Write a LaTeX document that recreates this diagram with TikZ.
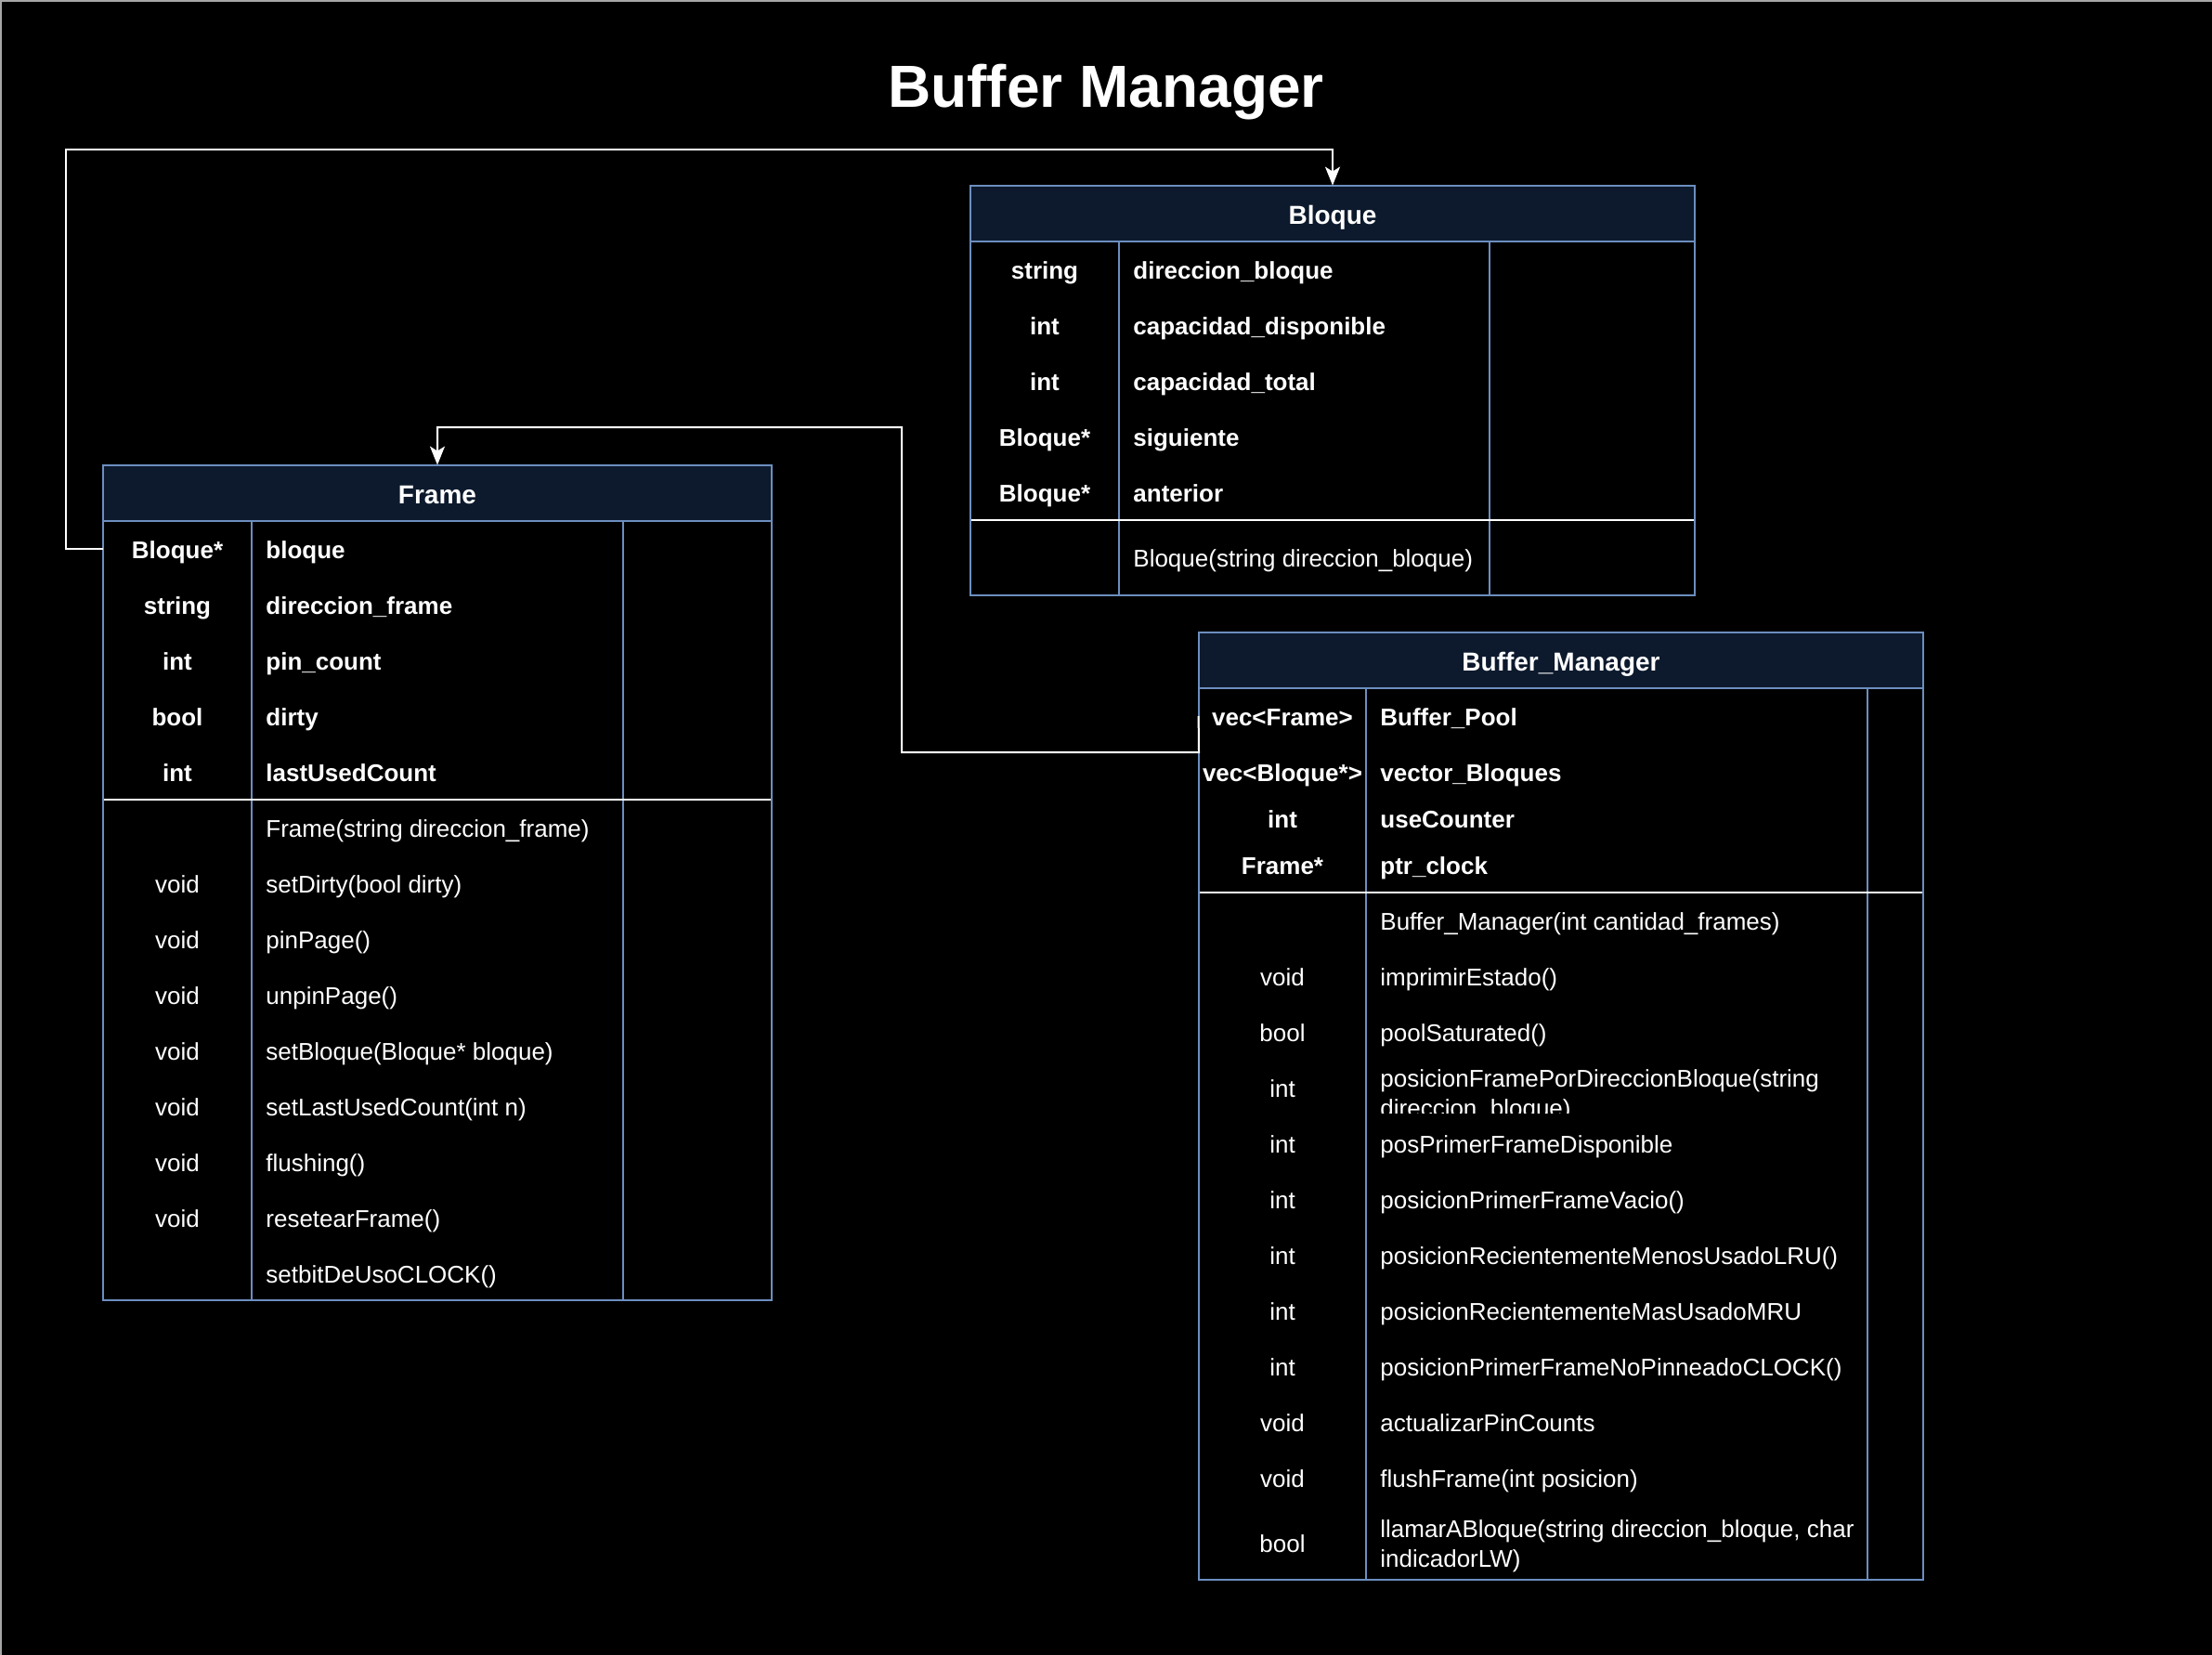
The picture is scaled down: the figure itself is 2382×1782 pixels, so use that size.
\documentclass[tikz,border=0pt]{standalone}
\usepackage{fontspec}
\setmainfont{Liberation Sans}
\usetikzlibrary{arrows.meta}
\definecolor{hdrfill}{HTML}{0D1A2D}
\definecolor{tblue}{HTML}{6C8EBF}
\tikzset{
  tb/.style={draw=tblue, line width=1pt},
  sepline/.style={draw=white, line width=1pt},
  conn/.style={draw=white, line width=1pt, -{Stealth[length=10pt,width=8pt,inset=2.5pt]}},
  txt/.style={text=white, inner sep=0pt, font=\fontsize{13}{16}\selectfont},
  oneline/.style={text height=10pt, text depth=0pt},
  typecell/.style={txt, oneline, minimum height=30pt, align=center},
  namecell/.style={txt, oneline, anchor=west},
  multicell/.style={txt, anchor=west, align=left},
  hdrtxt/.style={txt, text height=11.5pt, text depth=0pt, font=\fontsize{14}{17}\selectfont\bfseries, minimum height=30pt},
  bold/.style={font=\fontsize{13}{16}\selectfont\bfseries},
}
\begin{document}
\begin{tikzpicture}[x=0.5pt,y=-0.5pt]
\fill[black] (0,0) rectangle (2382,1782);
\useasboundingbox (0,0) rectangle (2382,1782);
\draw[gray!70, line width=1pt] (1,1782) -- (1,1) -- (2382,1);

% title
\node[text=white, inner sep=0pt, anchor=base, font=\fontsize{32}{38}\selectfont\bfseries] (title) at (1191,116) {Buffer Manager};

% ================= Frame =================
\fill[hdrfill] (111,501) rectangle (831,561);
\draw[tb] (271,561) -- (271,1400) (671,561) -- (671,1400);
\draw[tb] (111,561) -- (831,561);
\draw[sepline] (111,861) -- (831,861);
\draw[tb] (111,501) rectangle (831,1400);
\node[hdrtxt, minimum width=360pt] (fH) at (471,531) {Frame};
\foreach \t/\n [count=\i] in {Bloque*/bloque, string/direccion\_frame, int/pin\_count, bool/dirty, int/lastUsedCount}{
  \node[typecell, minimum width=80pt, bold] (fA\i) at (191,{531+60*\i}) {\t};
  \node[namecell, bold] (fN\i) at (286,{531+60*\i}) {\n};
}
\foreach \t/\n [count=\i] in {{}/Frame(string direccion\_frame), void/setDirty(bool dirty), void/pinPage(), void/unpinPage(), void/setBloque(Bloque* bloque), void/setLastUsedCount(int n), void/flushing(), void/resetearFrame(), {}/setbitDeUsoCLOCK()}{
  \node[typecell, minimum width=80pt] (fM\i) at (191,{831+60*\i}) {\t};
  \node[namecell] (fMN\i) at (286,{831+60*\i}) {\n};
}

% ================= Bloque =================
\fill[hdrfill] (1045,200) rectangle (1825,260);
\draw[tb] (1205,260) -- (1205,641) (1604,260) -- (1604,641);
\draw[tb] (1045,260) -- (1825,260);
\draw[sepline] (1045,560) -- (1825,560);
\draw[tb] (1045,200) rectangle (1825,641);
\node[hdrtxt, minimum width=390pt] (bH) at (1435,230) {Bloque};
\foreach \t/\n [count=\i] in {string/direccion\_bloque, int/capacidad\_disponible, int/capacidad\_total, Bloque*/siguiente, Bloque*/anterior}{
  \node[typecell, minimum width=80pt, bold] (bA\i) at (1125,{230+60*\i}) {\t};
  \node[namecell, bold] (bN\i) at (1220,{230+60*\i}) {\n};
}
\node[namecell] (bM1) at (1220,600) {Bloque(string direccion\_bloque)};

% ================= Buffer_Manager =================
\fill[hdrfill] (1291,681) rectangle (2071,741);
\draw[tb] (1471,741) -- (1471,1701) (2011,741) -- (2011,1701);
\draw[tb] (1291,741) -- (2071,741);
\draw[sepline] (1291,961) -- (2071,961);
\draw[tb] (1291,681) rectangle (2071,1701);
\node[hdrtxt, minimum width=390pt] (bmH) at (1681,711) {Buffer\_Manager};
\foreach \t/\n/\y [count=\i] in {vec<Frame>/Buffer\_Pool/771, vec<Bloque*>/vector\_Bloques/831, int/useCounter/881, Frame*/ptr\_clock/931}{
  \node[typecell, minimum width=90pt, bold] (bmA\i) at (1381,\y) {\t};
  \node[namecell, bold] (bmN\i) at (1486,\y) {\n};
}
\foreach \t/\n [count=\i] in {{}/Buffer\_Manager(int cantidad\_frames), void/imprimirEstado(), bool/poolSaturated(), int/{}, int/posPrimerFrameDisponible, int/posicionPrimerFrameVacio(), int/posicionRecientementeMenosUsadoLRU(), int/posicionRecientementeMasUsadoMRU, int/posicionPrimerFrameNoPinneadoCLOCK(), void/actualizarPinCounts, void/flushFrame(int posicion)}{
  \node[typecell, minimum width=90pt] (bmM\i) at (1381,{931+60*\i}) {\t};
  \node[namecell] (bmMN\i) at (1486,{931+60*\i}) {\n};
}
\begin{scope}
  \clip (1472,1141) rectangle (2010,1198);
  \node[multicell] (bmMN4b) at (1486,1180) {posicionFramePorDireccionBloque(string\\direccion\_bloque)};
\end{scope}
\node[typecell, minimum width=90pt] (bmM12) at (1381,1661) {bool};
\node[multicell] (bmMN12) at (1486,1665) {llamarABloque(string direccion\_bloque, char\\indicadorLW)};

% ================= connectors =================
\coordinate (k0) at (71,161);
\draw[conn] (fA1.west) -| (k0) -| (bH.north);
\coordinate (k1) at (1291,810);
\coordinate (k2) at (971,460);
\draw[conn] (bmA1.west -| bmH.west) -- (k1) -| (k2) -| (fH.north);
\end{tikzpicture}
\end{document}
